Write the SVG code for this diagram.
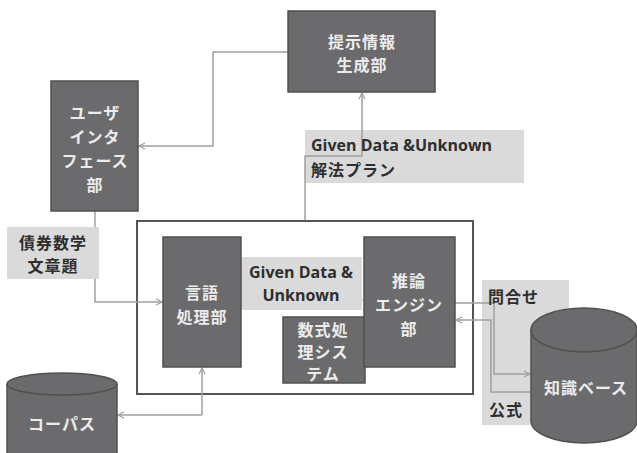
<svg xmlns="http://www.w3.org/2000/svg" width="637" height="453" viewBox="0 0 637 453">
<defs>
<style>
.box{fill:#6b6b6d;stroke:#505050;stroke-width:1.5}
.lab{fill:#dadada;stroke:none}
.wt{fill:#ececec;font-family:"Noto Sans CJK JP","Noto Sans",sans-serif;font-weight:bold;font-size:16px;letter-spacing:1px;text-anchor:middle;dominant-baseline:central}
.dt{fill:#2e2e2e;font-family:"Noto Sans CJK JP","Noto Sans",sans-serif;font-weight:bold;font-size:16px;letter-spacing:1px;dominant-baseline:central}
.en{fill:#2e2e2e;font-family:"Open Sans","Noto Sans",sans-serif;font-weight:bold;font-size:16px;dominant-baseline:central}
.con{fill:none;stroke:#a0a0a0;stroke-width:1.5}
</style>
<marker id="ah" viewBox="0 0 8 8" refX="7" refY="4" markerWidth="8" markerHeight="8" markerUnits="userSpaceOnUse" orient="auto">
<path d="M1,1 L7,4 L1,7" fill="none" stroke="#a0a0a0" stroke-width="1.2"/>
</marker>
</defs>
<rect width="637" height="453" fill="#ffffff"/>

<g id="labels">
<rect class="lab" x="305" y="130" width="219" height="53"/>
<rect class="lab" x="7" y="227" width="92" height="52"/>
<rect class="lab" x="482" y="280" width="87" height="145"/>
</g>

<g id="system">
<rect x="137" y="221" width="336" height="173" fill="none" stroke="#555555" stroke-width="2"/>
</g>

<g id="connectors">
<path class="con" d="M288,52 H213 V146 H139" marker-end="url(#ah)"/>
<path class="con" d="M305,220 V156 H362 V93" marker-end="url(#ah)"/>
<path class="con" d="M95,211 V227"/>
<path class="con" d="M95,279 V302 H162" marker-end="url(#ah)"/>
<path class="con" d="M241,300 H362" marker-end="url(#ah)"/>
<path class="con" d="M202,415 V368" marker-end="url(#ah)"/>
<path class="con" d="M202,415 H118" marker-end="url(#ah)"/>
<path class="con" d="M455,303 H494 V374 H530" marker-end="url(#ah)"/>
<path class="con" d="M531,392 H491 V320 H456" marker-end="url(#ah)"/>
</g>

<g id="label-given-mid">
<rect class="lab" x="241" y="257" width="121" height="53"/>
<text class="en" x="301" y="272" text-anchor="middle">Given Data &amp;</text>
<text class="en" x="301" y="295" text-anchor="middle">Unknown</text>
</g>

<g id="label-text">
<text class="en" x="311" y="145">Given Data &amp;Unknown</text>
<text class="dt" x="311" y="169">解法プラン</text>
<text class="dt" x="53" y="242" text-anchor="middle">債券数学</text>
<text class="dt" x="53" y="265" text-anchor="middle">文章題</text>
<text class="dt" x="488" y="296">問合せ</text>
<text class="dt" x="489" y="409">公式</text>
</g>

<g id="presentation">
<rect class="box" x="288" y="11" width="147" height="81"/>
<text class="wt" x="362" y="41">提示情報</text>
<text class="wt" x="362" y="64">生成部</text>
</g>

<g id="user-interface">
<rect class="box" x="51" y="81" width="87" height="130"/>
<text class="wt" x="95" y="112">ユーザ</text>
<text class="wt" x="95" y="136">インタ</text>
<text class="wt" x="95" y="160">フェース</text>
<text class="wt" x="95" y="184">部</text>
</g>

<g id="language">
<rect class="box" x="163" y="237" width="78" height="130"/>
<text class="wt" x="202" y="292">言語</text>
<text class="wt" x="202" y="316">処理部</text>
</g>

<g id="formula">
<rect class="box" x="283" y="317" width="82" height="66"/>
<text class="wt" x="323" y="329">数式処</text>
<text class="wt" x="323" y="351">理シス</text>
<text class="wt" x="323" y="373">テム</text>
</g>

<g id="inference">
<rect class="box" x="364" y="237" width="91" height="130"/>
<text class="wt" x="409" y="280">推論</text>
<text class="wt" x="409" y="304">エンジン</text>
<text class="wt" x="409" y="328">部</text>
</g>

<g id="knowledge">
<path class="box" d="M531,330 A53,22 0 0 1 637,330 V421 A53,22 0 0 1 531,421 Z"/>
<path d="M531,330 A53,22 0 0 0 637,330" fill="none" stroke="#505050" stroke-width="1.5"/>
<text class="wt" x="586" y="387">知識ベース</text>
</g>

<g id="corpus">
<path class="box" d="M7,384 A55,11 0 0 1 117,384 V460 H7 Z"/>
<path d="M7,384 A55,11 0 0 0 117,384" fill="none" stroke="#505050" stroke-width="1.5"/>
<text class="wt" x="62" y="423">コーパス</text>
</g>
</svg>
